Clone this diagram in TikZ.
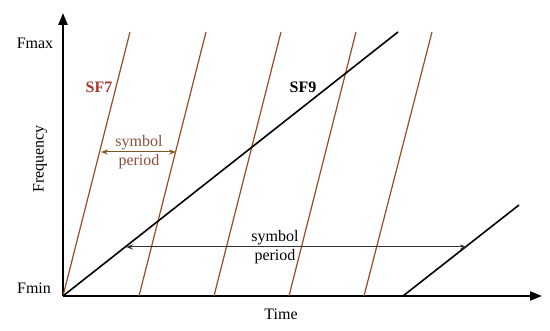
\documentclass[tikz,border=0pt]{standalone}
\usepackage{fontspec}
\setmainfont{Liberation Serif}
\usetikzlibrary{arrows.meta}
\definecolor{chirp}{RGB}{155,75,35}
\definecolor{sfred}{RGB}{165,55,45}
\definecolor{pertext}{RGB}{140,80,55}
\tikzset{
  axis/.style={line width=2.2pt,-{Triangle[length=12pt,width=9pt]}},
  chirpline/.style={chirp,line width=1.2pt},
  sfline/.style={black,line width=1.6pt},
  periodarrow/.style={line width=1pt,{Stealth[length=7pt,width=5pt]}-{Stealth[length=7pt,width=5pt]}},
  lbl/.style={font=\fontsize{16}{18}\selectfont,inner sep=0pt},
  twoline/.style={lbl,align=center,font=\fontsize{16}{18.5}\selectfont},
}
\begin{document}
\begin{tikzpicture}[x=1pt,y=-1pt]
\useasboundingbox (0,0) rectangle (550,331);
% axes
\coordinate (O) at (63,296);
\coordinate (ytip) at (63,13);
\coordinate (xtip) at (542,296);
\draw[axis] (O) -- (ytip);
\draw[axis] (O) -- (xtip);
\node[lbl] (fmax) at (35,43) {Fmax};
\node[lbl] (fmin) at (34,288) {Fmin};
\node[lbl,rotate=90] (freq) at (40,159) {Frequency};
\node[lbl] (time) at (281,314) {Time};
% SF7 chirps
\foreach \i/\b/\t in {1/63/130,2/139/206,3/214/281,4/289/356,5/364/432}{
  \coordinate (b\i) at (\b,296);
  \coordinate (t\i) at (\t,32);
  \draw[chirpline] (b\i) -- (t\i);
}
% SF9 chirps
\coordinate (s1b) at (63,296);
\coordinate (s1t) at (398,32);
\coordinate (s2b) at (403,296);
\coordinate (s2t) at (519,205);
\draw[sfline] (s1b) -- (s1t);
\draw[sfline] (s2b) -- (s2t);
% labels
\node[lbl,font=\fontsize{16}{18}\selectfont\bfseries,text=sfred] (sf7) at (99,87) {SF7};
\node[lbl,font=\fontsize{16}{18}\selectfont\bfseries] (sf9) at (303,87) {SF9};
% SF7 symbol period
\coordinate (p7a) at (101,152);
\coordinate (p7b) at (176,152);
\draw[periodarrow,draw={rgb,255:red,130;green,85;blue,40}] (p7a) -- (p7b);
\node[twoline,text=pertext] (per7) at (139,152) {symbol\\period};
% SF9 symbol period
\coordinate (p9a) at (126,247);
\coordinate (p9b) at (467,247);
\draw[periodarrow,draw={rgb,255:red,50;green,50;blue,50}] (p9a) -- (p9b);
\node[twoline] (per9) at (275,247) {symbol\\period};
\end{tikzpicture}
\end{document}
